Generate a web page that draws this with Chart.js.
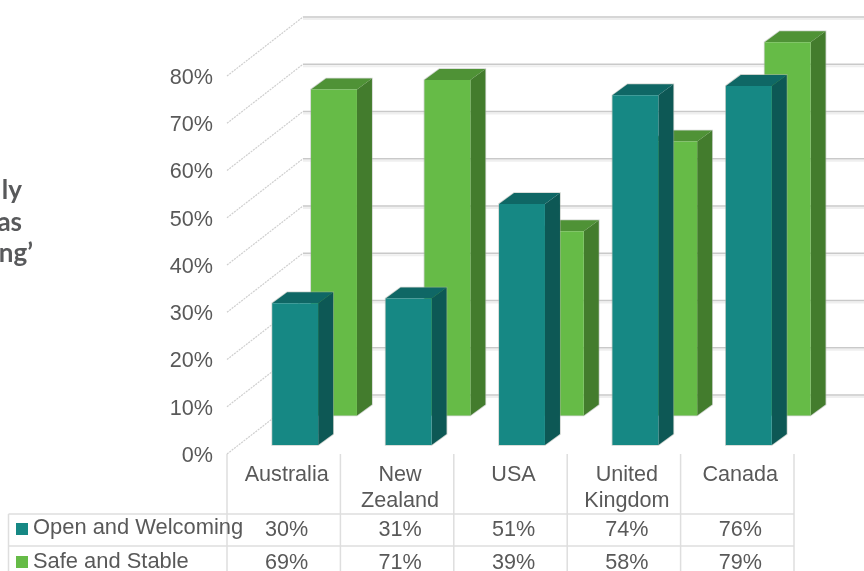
<!DOCTYPE html>
<html>
<head>
<meta charset="utf-8">
<style>
  html, body { margin: 0; padding: 0; background: #fff; overflow: hidden; }
  canvas { display: block; }
</style>
<script src="https://cdn.jsdelivr.net/npm/chart.js@4"></script>
</head>
<body>
<canvas id="grafico" width="864" height="571"></canvas>
<script>
// dados
const categories = [['Australia'], ['New', 'Zealand'], ['USA'], ['United', 'Kingdom'], ['Canada']];
const openWelcoming = [30, 31, 51, 74, 76];
const safeStable = [69, 71, 39, 58, 79];
const seriesNames = ['Open and Welcoming', 'Safe and Stable'];
const clippedTitle = ['ly', 'as', 'ng\u2019'];

const FONT = '"Liberation Sans", Arial, sans-serif';
const FONT_SIZE = 21.6;
const GREY = '#595959';
const TABLE_LINE = '#dedede';

// profundidade do "3D"
const wall = { dx: 76, dy: -59 };
const barDepth = { dx: 15, dy: -11 };

const plugin3d = {
  id: 'plugin3d',

  // paredes e linhas de grade
  beforeDatasetsDraw(chart) {
    const ctx = chart.ctx;
    const y = chart.scales.y;
    const left = chart.chartArea.left;
    ctx.save();
    y.ticks.forEach(t => {
      const py = y.getPixelForValue(t.value);
      // linha na parede lateral
      ctx.strokeStyle = '#cfcfcf';
      ctx.lineWidth = 1.2;
      ctx.setLineDash([2, 1]);
      ctx.beginPath();
      ctx.moveTo(left, py);
      ctx.lineTo(left + wall.dx, py + wall.dy);
      ctx.stroke();
      ctx.setLineDash([]);
      // linha na parede do fundo
      ctx.strokeStyle = '#efefef';
      ctx.lineWidth = 2;
      ctx.beginPath();
      ctx.moveTo(left + wall.dx, py + wall.dy + 2);
      ctx.lineTo(chart.width, py + wall.dy + 2);
      ctx.stroke();
      ctx.strokeStyle = '#c9c9c9';
      ctx.lineWidth = 1.3;
      ctx.beginPath();
      ctx.moveTo(left + wall.dx, py + wall.dy);
      ctx.lineTo(chart.width, py + wall.dy);
      ctx.stroke();
    });
    ctx.restore();
  },

  // cada serie fica numa fila diferente
  beforeDatasetDraw(chart, args) {
    const ctx = chart.ctx;
    const ds = chart.data.datasets[args.index];
    ctx.save();
    ctx.translate(ds.depthX, ds.depthY);
    chart.getDatasetMeta(args.index).data.forEach(bar => {
      const l = bar.x - bar.width / 2;
      const r = bar.x + bar.width / 2;
      // contorno claro
      ctx.strokeStyle = 'rgba(165,175,165,0.55)';
      ctx.lineWidth = 1.6;
      ctx.beginPath();
      ctx.moveTo(l, bar.base);
      ctx.lineTo(l, bar.y);
      ctx.lineTo(l + barDepth.dx, bar.y + barDepth.dy);
      ctx.lineTo(r + barDepth.dx, bar.y + barDepth.dy);
      ctx.lineTo(r + barDepth.dx, bar.base + barDepth.dy);
      ctx.lineTo(r, bar.base);
      ctx.closePath();
      ctx.stroke();
      // topo
      ctx.fillStyle = ds.topColor;
      ctx.beginPath();
      ctx.moveTo(l, bar.y);
      ctx.lineTo(l + barDepth.dx, bar.y + barDepth.dy);
      ctx.lineTo(r + barDepth.dx, bar.y + barDepth.dy);
      ctx.lineTo(r, bar.y);
      ctx.closePath();
      ctx.fill();
      // lado direito
      ctx.fillStyle = ds.sideColor;
      ctx.beginPath();
      ctx.moveTo(r, bar.y);
      ctx.lineTo(r + barDepth.dx, bar.y + barDepth.dy);
      ctx.lineTo(r + barDepth.dx, bar.base + barDepth.dy);
      ctx.lineTo(r, bar.base);
      ctx.closePath();
      ctx.fill();
    });
  },

  afterDatasetDraw(chart) {
    chart.ctx.restore();
  },

  // tabela de dados e texto cortado a esquerda
  afterDraw(chart) {
    const ctx = chart.ctx;
    const x = chart.scales.x;
    const area = chart.chartArea;
    const H = chart.height;
    const rows = [514, 546];
    const textY = [530, 563];
    const nameY = [528, 562];
    const swatchY = [529, 562];
    const series = [openWelcoming, safeStable];
    const colors = chart.data.datasets.map(d => d.backgroundColor);
    const step = x.getPixelForValue(1) - x.getPixelForValue(0);

    ctx.save();
    ctx.strokeStyle = TABLE_LINE;
    ctx.lineWidth = 1.5;
    categories.forEach((c, i) => {
      const px = x.getPixelForValue(i) - step / 2;
      ctx.beginPath();
      ctx.moveTo(px, area.bottom);
      ctx.lineTo(px, H);
      ctx.stroke();
    });
    const lastX = x.getPixelForValue(categories.length - 1) + step / 2;
    ctx.beginPath();
    ctx.moveTo(lastX, area.bottom);
    ctx.lineTo(lastX, H);
    ctx.moveTo(8.5, rows[0]);
    ctx.lineTo(8.5, H);
    rows.forEach(r => {
      ctx.moveTo(8.5, r);
      ctx.lineTo(lastX, r);
    });
    ctx.stroke();

    ctx.fillStyle = GREY;
    ctx.textBaseline = 'middle';
    series.forEach((vals, s) => {
      ctx.font = FONT_SIZE + 'px ' + FONT;
      ctx.textAlign = 'center';
      vals.forEach((v, i) => ctx.fillText(v + '%', x.getPixelForValue(i) + 3, textY[s]));
      ctx.font = '21.9px ' + FONT;
      ctx.textAlign = 'left';
      ctx.fillText(seriesNames[s], 33, nameY[s]);
    });
    series.forEach((vals, s) => {
      ctx.fillStyle = colors[s];
      ctx.fillRect(16, swatchY[s] - 6, 12, 12);
    });

    ctx.font = 'bold 26px Lato, sans-serif';
    ctx.fillStyle = '#58595b';
    ctx.textAlign = 'right';
    ctx.textBaseline = 'alphabetic';
    ctx.fillText(clippedTitle[0], 22, 199);
    ctx.fillText(clippedTitle[1], 22, 231);
    ctx.fillText(clippedTitle[2], 33, 262);
    ctx.restore();
  }
};

new Chart(document.getElementById('grafico'), {
  type: 'bar',
  data: {
    labels: categories,
    datasets: [
      {
        label: seriesNames[0],
        data: openWelcoming,
        backgroundColor: '#168884',
        sideColor: '#0d5855',
        topColor: '#0f6765',
        depthX: 11.5,
        depthY: -9,
        clip: false
      },
      {
        label: seriesNames[1],
        data: safeStable,
        backgroundColor: '#66bb47',
        sideColor: '#437c2d',
        topColor: '#4f9236',
        depthX: 50.3,
        depthY: -38.5,
        clip: false
      }
    ]
  },
  plugins: [plugin3d],
  options: {
    responsive: false,
    animation: false,
    grouped: false,
    barPercentage: 0.405,
    categoryPercentage: 1,
    layout: { padding: { top: 76, right: 70, left: 0, bottom: 0 } },
    scales: {
      x: {
        grid: { display: false, drawTicks: false },
        border: { display: false },
        afterFit(scale) { scale.height = 117; },
        ticks: {
          color: GREY,
          padding: 9,
          labelOffset: 3,
          maxRotation: 0,
          autoSkip: false,
          font: { family: FONT, size: FONT_SIZE, lineHeight: 1.16 }
        }
      },
      y: {
        min: 0,
        max: 80,
        grid: { display: false, drawTicks: false },
        border: { display: false },
        afterFit(scale) { scale.width = 227; },
        ticks: {
          stepSize: 10,
          color: GREY,
          padding: 14,
          labelOffset: 2,
          font: { family: FONT, size: FONT_SIZE },
          callback: v => v + '%'
        }
      }
    },
    plugins: {
      legend: { display: false },
      tooltip: { enabled: false },
      title: { display: false }
    }
  }
});
</script>
</body>
</html>
